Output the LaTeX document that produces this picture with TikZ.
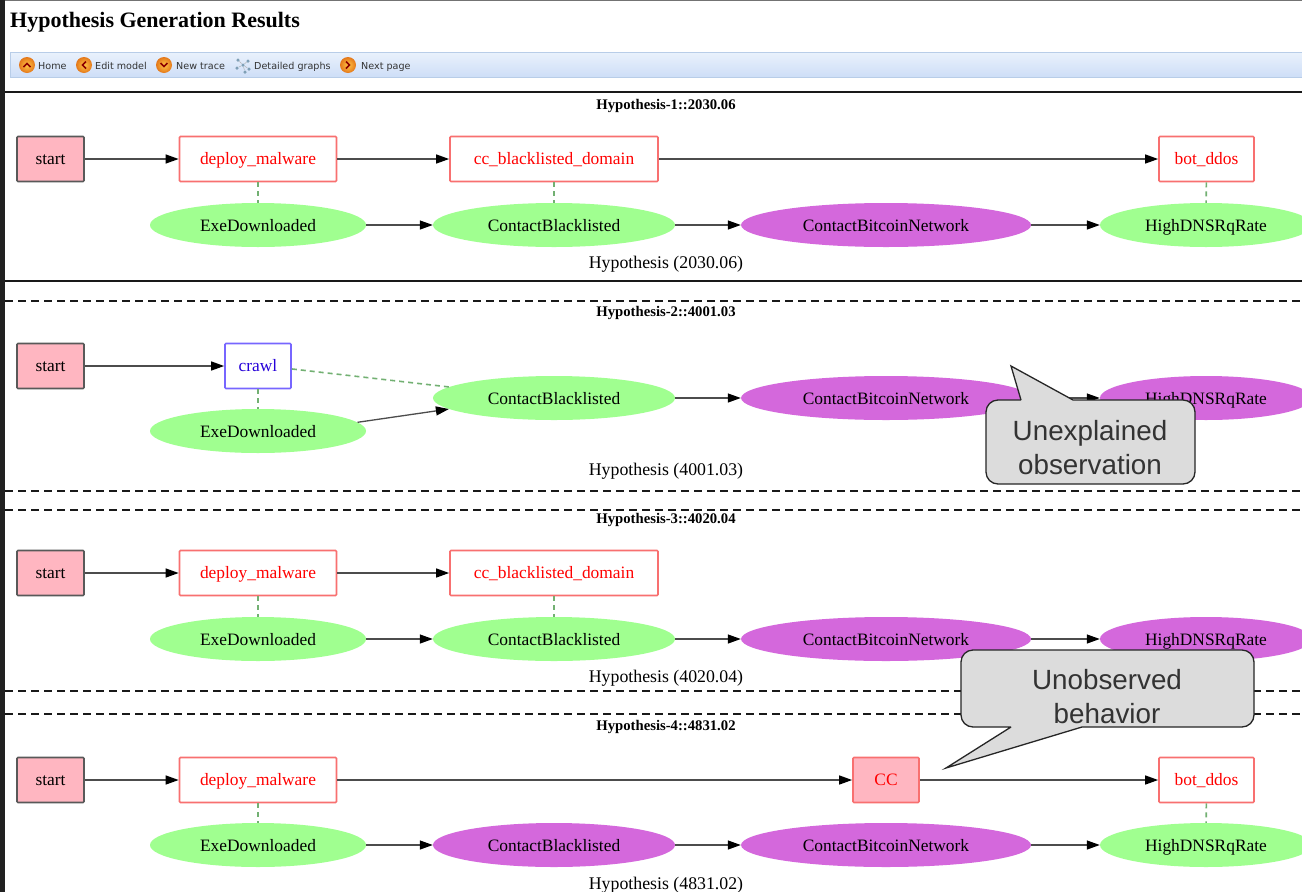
\documentclass[tikz,border=0pt]{standalone}
\usepackage{fontspec}
\setmainfont{Liberation Serif}
\newfontfamily\toolfont{DejaVu Sans}
\newfontfamily\notefont{Liberation Sans}
\usetikzlibrary{arrows.meta,shapes.geometric}
\definecolor{startpink}{HTML}{FFB6C1}
\definecolor{obsgreen}{HTML}{A0FF90}
\definecolor{unexpurple}{HTML}{D468DC}
\definecolor{boxred}{HTML}{F87070}
\definecolor{boxblue}{HTML}{7766FF}
\definecolor{dashgreen}{HTML}{72B072}
\definecolor{notegray}{HTML}{DCDCDC}
\definecolor{bartop}{HTML}{E9F1FC}
\definecolor{barbottom}{HTML}{CEDEF7}
\definecolor{barline}{HTML}{B8CDE8}
\definecolor{ballin}{HTML}{FFC648}
\definecolor{ballout}{HTML}{E4771A}
\definecolor{dotblue}{HTML}{7F9FB5}

\begin{document}
\begin{tikzpicture}
[x=1pt,y=-1pt,%
  graphfont/.style={font=\fontsize{17.4}{20}\selectfont,text height=17pt,text depth=3.6pt},%
  startdecorate/.style={shape=rectangle,draw=black!65,fill=startpink,line width=1.7pt,
    rounded corners=1pt,minimum height=45pt,inner sep=0pt,graphfont,text height=15.5pt},%
  reddecorate/.style={shape=rectangle,draw=boxred,fill=white,text=red,line width=1.7pt,
    rounded corners=1pt,minimum height=45pt,inner sep=0pt,graphfont,text height=15.5pt},%
  bluedecorate/.style={reddecorate,draw=boxblue,text=blue!85!red},%
  ccdecorate/.style={reddecorate,fill=startpink},%
  greendecorate/.style={shape=ellipse,fill=obsgreen,minimum height=44pt,inner sep=0pt,graphfont},%
  purpledecorate/.style={greendecorate,fill=unexpurple},%
  linedecorate/.style={-{Triangle[length=13pt,width=9pt,color=black]},line width=1.3pt,black!70},%
  dashdecorate/.style={-,line width=1.6pt,dashgreen,dash pattern=on 5pt off 4pt},%
  ruledecorate/.style={line width=1.5pt,black!90},%
  breakdecorate/.style={ruledecorate,dash pattern=on 8pt off 5pt},%
  titledecorate/.style={font=\fontsize{14.7}{16}\selectfont\bfseries},%
  captiondecorate/.style={font=\fontsize{17.8}{20}\selectfont},%
  tooldecorate/.style={anchor=west,inner sep=0pt,text=black!80,text height=8pt,text depth=2pt,
    font=\toolfont\fontsize{9.6}{11}\selectfont},%
  notedecorate/.style={draw=black!85,fill=notegray,line width=1.3pt,line join=miter},%
  notetext/.style={align=center,text=black!80,font=\notefont\fontsize{27.8}{34}\selectfont}]
\clip (0,0) rectangle (1302,892);
\fill[white] (0,0) rectangle (1302,892);
\fill[black!87] (0,0) rectangle (5,892);
\fill[black!55] (5,0) rectangle (1302,1.2);
%% page heading and tool bar
\node (heading) at (155,22) [font=\fontsize{22}{24}\selectfont\bfseries,inner sep=0pt] {Hypothesis Generation Results};
\draw[draw=barline,top color=bartop,bottom color=barbottom] (10,52.5) rectangle (1310,77);
\foreach \iconname/\x/\ang in {home/27/0, edit/84/90, newtrace/164/180, nextpage/348/-90}
{
  \node (\iconname) at (\x,65) [shape=circle,minimum size=16pt,inner sep=0pt,
    inner color=ballin,outer color=ballout] {};
  \draw[red!55!black,line width=1.5pt,rotate around={\ang:(\x,65)}] (\x-3.5,67) -- (\x,63.5) -- (\x+3.5,67);
}
\foreach \dotname/\x/\y in {d1/238/60, d2/248/61, d3/243/65, d4/237/68, d5/249/69, d6/245/72}
{
  \node (\dotname) at (\x,\y) [shape=circle,fill=dotblue,minimum size=3.5pt,inner sep=0pt] {};
}
\path
\foreach \startnode/\endnode in {d1/d3, d2/d3, d4/d3, d5/d3, d6/d3}
{
  (\startnode) edge[black!30,line width=0.5pt] (\endnode)
};
\foreach \toolname/\x/\toollabel in {thome/38/Home, tedit/95/Edit model, tnew/176/New trace,
  tgraphs/254/Detailed graphs, tnext/361/Next page}
{
  \node (\toolname) at (\x,66) [tooldecorate] {\toollabel};
}
%% separators
\foreach \y in {92,281}
{
  \draw[ruledecorate] (5,\y) -- (1302,\y);
}
\foreach \y in {301,491,510,691,714}
{
  \draw[breakdecorate] (5,\y) -- (1302,\y);
}
%% titles and captions
\foreach \nodename/\y/\nodelabel in {title1/105.5/Hypothesis-1::2030.06, title2/312.5/Hypothesis-2::4001.03,
  title3/519.5/Hypothesis-3::4020.04, title4/726.5/Hypothesis-4::4831.02}
{
  \node (\nodename) at (666,\y) [titledecorate,inner sep=0pt] {\nodelabel};
}
\foreach \nodename/\y/\nodelabel in {cap1/264/Hypothesis (2030.06), cap2/471/Hypothesis (4001.03),
  cap3/678/Hypothesis (4020.04), cap4/885/Hypothesis (4831.02)}
{
  \node (\nodename) at (666,\y) [captiondecorate,inner sep=0pt] {\nodelabel};
}
%% action boxes
\foreach \nodename/\x/\y/\w/\deco/\nodelabel in {
  start1/50.5/159/67/startdecorate/start, start2/50.5/366/67/startdecorate/start,
  start3/50.5/573/67/startdecorate/start, start4/50.5/780/67/startdecorate/start,
  mal1/258/159/157/reddecorate/deploy\_malware, mal3/258/573/157/reddecorate/deploy\_malware,
  mal4/258/780/157/reddecorate/deploy\_malware,
  dom1/554/159/208/reddecorate/cc\_blacklisted\_domain, dom3/554/573/208/reddecorate/cc\_blacklisted\_domain,
  bot1/1206.5/159/95/reddecorate/bot\_ddos, bot4/1206.5/780/95/reddecorate/bot\_ddos,
  crawl2/258/366/66/bluedecorate/crawl, cc4/886/780/66/ccdecorate/CC}
{
  \node (\nodename) at (\x,\y) [\deco,minimum width=\w pt] {\nodelabel};
}
%% observations
\foreach \nodename/\x/\y/\w/\deco/\nodelabel in {
  exe1/258/225/216/greendecorate/ExeDownloaded, black1/554/225/242/greendecorate/ContactBlacklisted,
  coin1/886/225/290/purpledecorate/ContactBitcoinNetwork, dns1/1206/225/212/greendecorate/HighDNSRqRate,
  exe2/258/431/216/greendecorate/ExeDownloaded, black2/554/398/242/greendecorate/ContactBlacklisted,
  coin2/886/398/290/purpledecorate/ContactBitcoinNetwork, dns2/1206/398/212/purpledecorate/HighDNSRqRate,
  exe3/258/639/216/greendecorate/ExeDownloaded, black3/554/639/242/greendecorate/ContactBlacklisted,
  coin3/886/639/290/purpledecorate/ContactBitcoinNetwork, dns3/1206/639/212/purpledecorate/HighDNSRqRate,
  exe4/258/845/216/greendecorate/ExeDownloaded, black4/554/845/242/purpledecorate/ContactBlacklisted,
  coin4/886/845/290/purpledecorate/ContactBitcoinNetwork, dns4/1206/845/212/greendecorate/HighDNSRqRate}
{
  \node (\nodename) at (\x,\y) [\deco,minimum width=\w pt] {\nodelabel};
}
%% edges
\path
\foreach \startnode/\endnode in {start1/mal1, mal1/dom1, dom1/bot1, exe1/black1, black1/coin1, coin1/dns1,
  start2/crawl2, black2/coin2, coin2/dns2,
  start3/mal3, mal3/dom3, exe3/black3, black3/coin3, coin3/dns3,
  start4/mal4, mal4/cc4, cc4/bot4, exe4/black4, black4/coin4, coin4/dns4}
{
  (\startnode) edge[linedecorate] (\endnode)
};
\path
\foreach \startnode/\endnode in {mal1/exe1, dom1/black1, bot1/dns1, crawl2/exe2,
  mal3/exe3, dom3/black3, mal4/exe4, bot4/dns4}
{
  (\startnode) edge[dashdecorate] (\endnode)
};
\draw[linedecorate] (exe2.5) -- (black2.186);
\draw[dashdecorate] (crawl2.-5) -- (black2.174);
%% callouts
\draw[notedecorate] (1021,400) -- (1011,366) -- (1073,400)
  [rounded corners=12pt] -- (1195,400) -- (1195,484) -- (986,484) -- (986,400) -- (1021,400);
\node (note1) at (1090,448) [notetext] {Unexplained\\observation};
\draw[notedecorate] (1011,727) -- (946,768) -- (1082,727)
  [rounded corners=12pt] -- (1254,727) -- (1254,650) -- (961,650) -- (961,727) -- (1011,727);
\node (note2) at (1107,697) [notetext] {Unobserved\\behavior};
\end{tikzpicture}
\end{document}
